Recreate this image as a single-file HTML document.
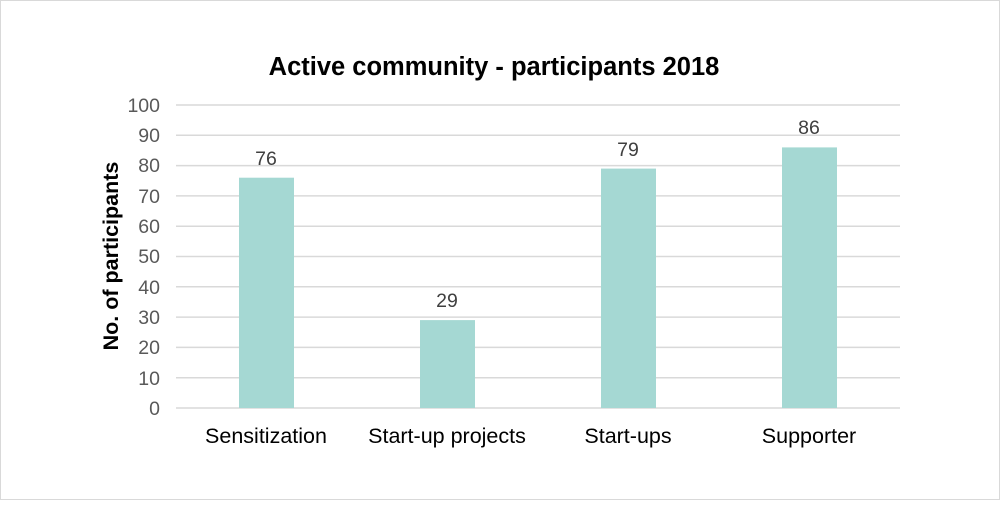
<!DOCTYPE html>
<html><head><style>
html,body{margin:0;padding:0;background:#fff}
</style></head><body>
<svg width="1000" height="500" xmlns="http://www.w3.org/2000/svg" font-family="Liberation Sans, Arial, sans-serif">
<rect x="0.5" y="0.5" width="999" height="499" fill="#fff" stroke="#d9d9d9"/>
<text x="494" y="75" text-anchor="middle" font-size="25.5" font-weight="bold" fill="#000">Active community - participants 2018</text>
<text transform="translate(118,256) rotate(-90)" text-anchor="middle" font-size="21.5" font-weight="bold" fill="#000">No. of participants</text>
<g stroke="#d9d9d9" stroke-width="1.5">
<line x1="176" x2="900" y1="105" y2="105"/>
<line x1="176" x2="900" y1="135.3" y2="135.3"/>
<line x1="176" x2="900" y1="165.6" y2="165.6"/>
<line x1="176" x2="900" y1="195.9" y2="195.9"/>
<line x1="176" x2="900" y1="226.2" y2="226.2"/>
<line x1="176" x2="900" y1="256.5" y2="256.5"/>
<line x1="176" x2="900" y1="286.8" y2="286.8"/>
<line x1="176" x2="900" y1="317.1" y2="317.1"/>
<line x1="176" x2="900" y1="347.4" y2="347.4"/>
<line x1="176" x2="900" y1="377.7" y2="377.7"/>
<line x1="176" x2="900" y1="408" y2="408"/>
</g>
<g font-size="19.5" fill="#595959" text-anchor="end">
<text x="160" y="112">100</text>
<text x="160" y="142">90</text>
<text x="160" y="172">80</text>
<text x="160" y="203">70</text>
<text x="160" y="233">60</text>
<text x="160" y="263">50</text>
<text x="160" y="294">40</text>
<text x="160" y="324">30</text>
<text x="160" y="354">20</text>
<text x="160" y="385">10</text>
<text x="160" y="415">0</text>
</g>
<g fill="#a5d8d3">
<rect x="239" y="177.7" width="55" height="230.3"/>
<rect x="420" y="320.1" width="55" height="87.9"/>
<rect x="601" y="168.6" width="55" height="239.4"/>
<rect x="782" y="147.4" width="55" height="260.6"/>
</g>
<g font-size="19.5" fill="#404040" text-anchor="middle">
<text x="266" y="165">76</text>
<text x="447" y="307">29</text>
<text x="628" y="156">79</text>
<text x="809" y="134">86</text>
</g>
<g font-size="21.5" fill="#000" text-anchor="middle">
<text x="266" y="443">Sensitization</text>
<text x="447" y="443">Start-up projects</text>
<text x="628" y="443">Start-ups</text>
<text x="809" y="443">Supporter</text>
</g>
</svg>
</body></html>
